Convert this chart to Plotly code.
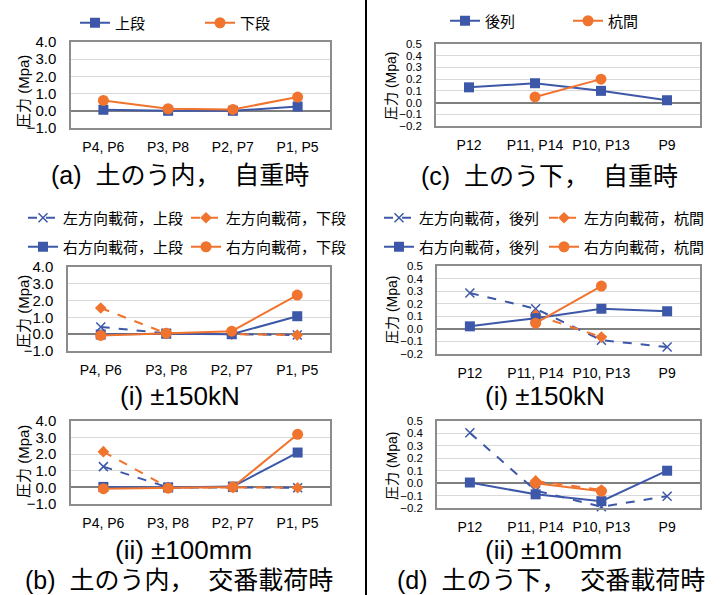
import plotly.graph_objects as go

W, H = 720, 595
BLUE = "#3D58A8"
ORANGE = "#F0732E"
FONT = "Liberation Sans, Arial, Noto Sans CJK JP, sans-serif"

# ---------------- data ----------------
cats_in = ["P4, P6", "P3, P8", "P2, P7", "P1, P5"]
cats_under = ["P12", "P11, P14", "P10, P13", "P9"]

# (a) inside sandbags, self weight
a_upper = [0.06, 0.0, 0.0, 0.25]
a_lower = [0.6, 0.12, 0.08, 0.8]

# (c) under sandbags, self weight
c_rear = [0.13, 0.165, 0.10, 0.02]
c_pile = [None, 0.048, 0.20, None]

# (b)(i) ±150kN
bi_left_upper = [0.43, 0.05, 0.0, -0.05]
bi_left_lower = [1.56, 0.05, 0.0, -0.05]
bi_right_upper = [-0.02, 0.03, 0.0, 1.07]
bi_right_lower = [-0.07, 0.06, 0.18, 2.33]

# (d)(i) ±150kN
di_left_rear = [0.285, 0.16, -0.09, -0.145]
di_left_pile = [None, 0.11, -0.065, None]
di_right_rear = [0.02, 0.085, 0.16, 0.14]
di_right_pile = [None, 0.045, 0.34, None]

# (b)(ii) ±100mm
bii_left_upper = [1.25, 0.0, 0.0, -0.02]
bii_left_lower = [2.15, 0.0, 0.0, -0.02]
bii_right_upper = [0.03, 0.0, 0.05, 2.1]
bii_right_lower = [-0.08, -0.05, 0.02, 3.2]

# (d)(ii) ±100mm
dii_left_rear = [0.405, -0.06, -0.19, -0.105]
dii_left_pile = [None, 0.018, -0.055, None]
dii_right_rear = [0.005, -0.09, -0.145, 0.10]
dii_right_pile = [None, 0.0, -0.065, None]

names_a = ["上段", "下段"]
names_c = ["後列", "杭間"]
names_b = ["左方向載荷，上段", "左方向載荷，下段", "右方向載荷，上段", "右方向載荷，下段"]
names_d = ["左方向載荷，後列", "左方向載荷，杭間", "右方向載荷，後列", "右方向載荷，杭間"]

titles = {
    "a": "(a)\u00a0\u00a0土のう内，\u00a0\u00a0自重時",
    "c": "(c)\u00a0\u00a0土のう下，\u00a0\u00a0自重時",
    "bi": "(i) ±150kN",
    "di": "(i) ±150kN",
    "bii": "(ii) ±100mm",
    "dii": "(ii) ±100mm",
    "b": "(b)\u00a0\u00a0土のう内，\u00a0\u00a0交番載荷時",
    "d": "(d)\u00a0\u00a0土のう下，\u00a0\u00a0交番載荷時",
}
ytitle = "圧力 (Mpa)"

# ---------------- layout helpers ----------------
def px_x(v):
    return v / W

def px_y(v):
    return 1 - v / H

def sq():
    return dict(symbol="square", size=10, color=BLUE)

def circ():
    return dict(symbol="circle", size=11, color=ORANGE)

def dia():
    return dict(symbol="diamond", size=9, color=ORANGE)

def xm():
    return dict(symbol="x-thin", size=9, color=BLUE, line=dict(width=1.5, color=BLUE))

fig = go.Figure()

def add(x, y, name, ax, marker, color, dash, legend, showlegend=True):
    fig.add_trace(go.Scatter(
        x=x, y=y, name=name, mode="lines+markers",
        xaxis="x" + ax, yaxis="y" + ax,
        line=dict(color=color, width=2, dash=dash),
        marker=marker, legend=legend, showlegend=showlegend,
        cliponaxis=False,
    ))

# (a)
add(cats_in, a_upper, names_a[0], "", sq(), BLUE, "solid", "legend")
add(cats_in, a_lower, names_a[1], "", circ(), ORANGE, "solid", "legend")
# (c)
add(cats_under, c_rear, names_c[0], "2", sq(), BLUE, "solid", "legend2")
add(cats_under, c_pile, names_c[1], "2", circ(), ORANGE, "solid", "legend2")
# (b)(i)
add(cats_in, bi_left_upper, names_b[0], "3", xm(), BLUE, "dash", "legend3")
add(cats_in, bi_left_lower, names_b[1], "3", dia(), ORANGE, "dash", "legend3")
add(cats_in, bi_right_upper, names_b[2], "3", sq(), BLUE, "solid", "legend4")
add(cats_in, bi_right_lower, names_b[3], "3", circ(), ORANGE, "solid", "legend4")
# (d)(i)
add(cats_under, di_left_rear, names_d[0], "4", xm(), BLUE, "dash", "legend5")
add(cats_under, di_left_pile, names_d[1], "4", dia(), ORANGE, "dash", "legend5")
add(cats_under, di_right_rear, names_d[2], "4", sq(), BLUE, "solid", "legend6")
add(cats_under, di_right_pile, names_d[3], "4", circ(), ORANGE, "solid", "legend6")
# (b)(ii)
add(cats_in, bii_left_upper, names_b[0], "5", xm(), BLUE, "dash", "legend3", False)
add(cats_in, bii_left_lower, names_b[1], "5", dia(), ORANGE, "dash", "legend3", False)
add(cats_in, bii_right_upper, names_b[2], "5", sq(), BLUE, "solid", "legend4", False)
add(cats_in, bii_right_lower, names_b[3], "5", circ(), ORANGE, "solid", "legend4", False)
# (d)(ii)
add(cats_under, dii_left_rear, names_d[0], "6", xm(), BLUE, "dash", "legend5", False)
add(cats_under, dii_left_pile, names_d[1], "6", dia(), ORANGE, "dash", "legend5", False)
add(cats_under, dii_right_rear, names_d[2], "6", sq(), BLUE, "solid", "legend6", False)
add(cats_under, dii_right_pile, names_d[3], "6", circ(), ORANGE, "solid", "legend6", False)

# panel boxes in pixels: (left, right, top, bottom)
boxes = {
    "": (71, 330, 42, 128, cats_in, "big"),
    "2": (436, 700, 44, 126, cats_under, "small"),
    "3": (68, 330, 267, 351, cats_in, "big"),
    "4": (437, 700, 266, 354, cats_under, "small"),
    "5": (71, 330, 421, 504, cats_in, "big"),
    "6": (437, 700, 421, 508, cats_under, "small"),
}

layout = dict(
    width=W, height=H, margin=dict(l=0, r=0, t=0, b=0),
    paper_bgcolor="white", plot_bgcolor="white",
    template="none", font=dict(family=FONT, color="#000000"),
    showlegend=True,
)

annotations = []
for key, (l, r, t, b, cats, kind) in boxes.items():
    xa = "xaxis" + key
    ya = "yaxis" + key
    layout[xa] = dict(
        domain=[px_x(l), px_x(r)], anchor="y" + key, type="category",
        categoryorder="array", categoryarray=cats, range=[-0.5, 3.5],
        showgrid=False, zeroline=False, showline=True, mirror=True,
        linecolor="#8C8C8C", linewidth=1.5,
        ticks="outside", ticklen=5, tickcolor="rgba(0,0,0,0)",
        tickfont=dict(size=14, family=FONT), fixedrange=True,
    )
    if kind == "big":
        yr, dt = [-1.0, 4.0], 1.0
        yfs = 15
    else:
        yr, dt = [-0.2, 0.5], 0.1
        yfs = 11.5
    layout[ya] = dict(
        domain=[px_y(b), px_y(t)], anchor="x" + key, range=yr, dtick=dt,
        tick0=0, tickformat=".1f", showgrid=True, gridcolor="#D9D9D9", gridwidth=1,
        zeroline=True, zerolinecolor="#7F7F7F", zerolinewidth=1.5,
        showline=True, mirror=True, linecolor="#8C8C8C", linewidth=1.5,
        ticks="outside", ticklen=10, tickcolor="rgba(0,0,0,0)",
        tickfont=dict(size=yfs, family=FONT), fixedrange=True,
    )

# y axis titles as rotated annotations
ytitle_pos = [(23, 92, 15), (391, 86, 14), (23, 312, 15), (392, 310, 14), (23, 462, 15), (392, 466, 14)]
for x, y, fs in ytitle_pos:
    annotations.append(dict(
        text=ytitle, x=px_x(x), y=px_y(y), xref="paper", yref="paper",
        showarrow=False, textangle=-90, font=dict(size=fs, family=FONT),
        xanchor="center", yanchor="middle",
    ))

# panel titles
title_pos = [
    ("a", 180, 175, 25), ("c", 549, 176, 25),
    ("bi", 180, 396, 26), ("di", 545, 396, 26),
    ("bii", 183, 550, 26), ("dii", 553, 550, 26),
    ("b", 179, 580, 25), ("d", 551, 580, 25),
]
for k, x, y, fs in title_pos:
    annotations.append(dict(
        text=titles[k], x=px_x(x), y=px_y(y), xref="paper", yref="paper",
        showarrow=False, font=dict(size=fs, family=FONT),
        xanchor="center", yanchor="middle",
    ))
layout["annotations"] = annotations

def leg(x, y, ew):
    return dict(
        x=px_x(x), y=px_y(y), xanchor="left", yanchor="middle",
        orientation="h", bgcolor="rgba(0,0,0,0)", borderwidth=0,
        font=dict(size=15, family=FONT), entrywidth=ew, entrywidthmode="pixels",
        itemwidth=30, itemclick=False, itemdoubleclick=False,
        tracegroupgap=0,
    )

layout["legend"] = leg(75, 23, 80)
layout["legend2"] = leg(445, 21, 78)
layout["legend3"] = leg(23, 218, 118)
layout["legend4"] = leg(23, 247, 118)
layout["legend5"] = leg(379, 218, 120)
layout["legend6"] = leg(379, 247, 120)

layout["shapes"] = [dict(
    type="line", xref="paper", yref="paper",
    x0=px_x(366), x1=px_x(366), y0=0, y1=1,
    line=dict(color="#000000", width=2),
)]

fig.update_layout(**layout)
fig.write_html(
    "out.html",
    config={"displayModeBar": False},
    post_script="document.body.style.margin='0px';document.body.style.overflow='hidden';",
)
